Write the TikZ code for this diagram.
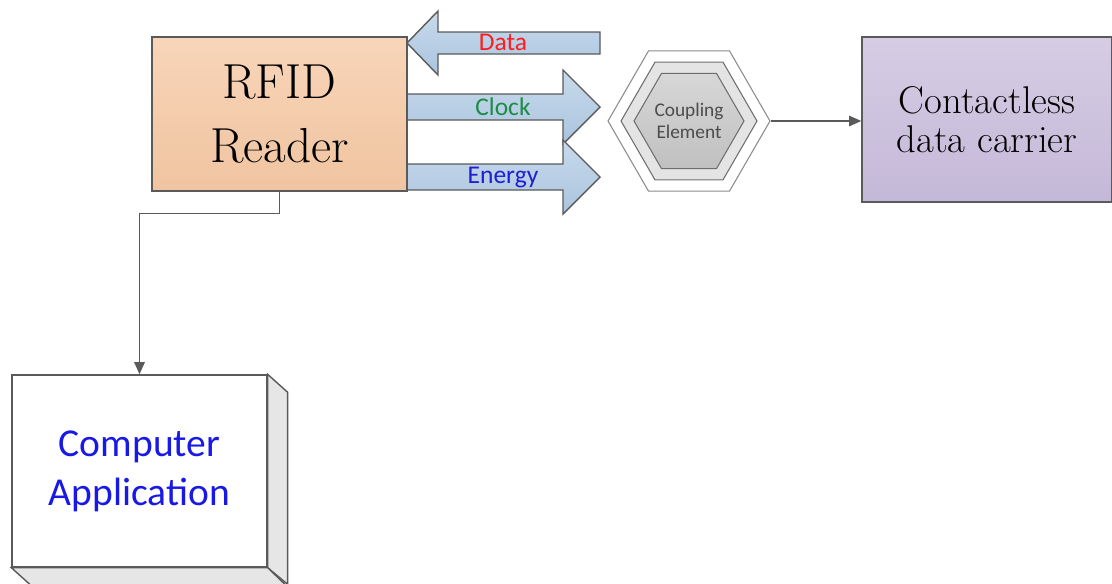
\documentclass[tikz,border=0pt]{standalone}
\usepackage{fontspec}
\newfontfamily\calibrifont{Carlito}
\usetikzlibrary{arrows.meta,shapes.geometric}

\tikzset{
  box/.style={draw=edge,line width=0.8pt,inner sep=0pt,align=center},
  bigarrow/.style={draw=edge,line width=0.8pt,top color=arrowtop,bottom color=arrowbot},
  flowlabel/.style={anchor=base,font=\calibrifont\fontsize{14.5}{17}\selectfont},
  hexa/.style={regular polygon,regular polygon sides=6,draw=hexedge,line width=0.6pt,inner sep=0pt},
  link/.style={draw=edge,line width=0.8pt,-{Triangle[length=7pt,width=6pt]}}
}

\begin{document}
\begin{tikzpicture}[x=0.02cm,y=-0.02cm]

  \definecolor{edge}{RGB}{90,90,90} % outlines
  \definecolor{arrowtop}{RGB}{200,218,236} % flow arrows
  \definecolor{arrowbot}{RGB}{170,196,222}
  \definecolor{readertop}{RGB}{248,213,185} % reader box
  \definecolor{readerbot}{RGB}{240,196,160}
  \definecolor{carriertop}{RGB}{214,205,228} % carrier box
  \definecolor{carrierbot}{RGB}{196,184,216}
  \definecolor{hexedge}{RGB}{110,110,110}
  \definecolor{hexmid}{RGB}{228,228,228}
  \definecolor{hextop}{RGB}{215,215,215}
  \definecolor{hexbot}{RGB}{192,192,192}
  \definecolor{sidegray}{RGB}{230,230,230}
  \definecolor{datared}{RGB}{255,30,30}
  \definecolor{clockgreen}{RGB}{30,140,70}
  \definecolor{energyblue}{RGB}{30,30,210}
  \definecolor{appblue}{RGB}{25,25,230}

  \useasboundingbox (0,0) rectangle (1112,583);

  % Draw flow arrows
  \draw[bigarrow] (600,32) -- (438,32) -- (438,11) -- (407,43) -- (438,75) -- (438,54) -- (600,54) -- cycle;
  \draw[bigarrow] (407,94) -- (563,94) -- (563,70) -- (600,107) -- (563,144) -- (563,120) -- (407,120) -- cycle;
  \draw[bigarrow] (407,164) -- (563,164) -- (563,140) -- (600,177) -- (563,214) -- (563,190) -- (407,190) -- cycle;

  % Draw reader
  \node[box,top color=readertop,bottom color=readerbot,minimum width=5.1cm,minimum height=3.08cm,
        font=\fontsize{28}{36}\selectfont] (reader) at (279.5,114) {RFID\\Reader};

  % Flow labels
  \node[flowlabel,text=datared] (datalbl) at (503,50) {Data};
  \node[flowlabel,text=clockgreen] (clocklbl) at (503,115) {Clock};
  \node[flowlabel,text=energyblue] (energylbl) at (503,183) {Energy};

  % Draw coupling element
  \node[hexa,draw=hexedge!80,fill=white,minimum size=3.24cm] (coupler) at (689,121) {};
  \node[hexa,fill=hexmid,minimum size=2.72cm] (couplermid) at (coupler.center) {};
  \node[hexa,top color=hextop,bottom color=hexbot,minimum size=2.2cm] (couplerin) at (coupler.center) {};
  \node[align=center,text=black!70,font=\calibrifont\fontsize{11}{12.5}\selectfont] (couplertxt) at (coupler.center) {Coupling\\Element};

  % Draw data carrier
  \node[box,top color=carriertop,bottom color=carrierbot,minimum width=5cm,minimum height=3.3cm,
        font=\fontsize{22}{22}\selectfont] (carrier) at (987,119.5) {Contactless\\data carrier};
  \draw[link] (coupler.east) -- (coupler.east -| carrier.west);

  % Draw computer application
  \node[box,fill=white,minimum width=5.1cm,minimum height=3.84cm,text=appblue,
        font=\calibrifont\fontsize{22.5}{28}\selectfont] (app) at (139.5,471) {Computer\\Application};
  \draw[edge,line width=0.8pt,fill=sidegray] (app.north east) -- ++(20,18) -- ++(0,192) -- (app.south east) -- cycle;
  \draw[edge,line width=0.8pt,fill=sidegray] (app.south west) -- ++(20,18) -- ++(255,0) -- (app.south east) -- cycle;

  % Draw reader to application
  \draw[link] (reader.south) -- ++(0,22) -| (app.north);

\end{tikzpicture}
\end{document}
